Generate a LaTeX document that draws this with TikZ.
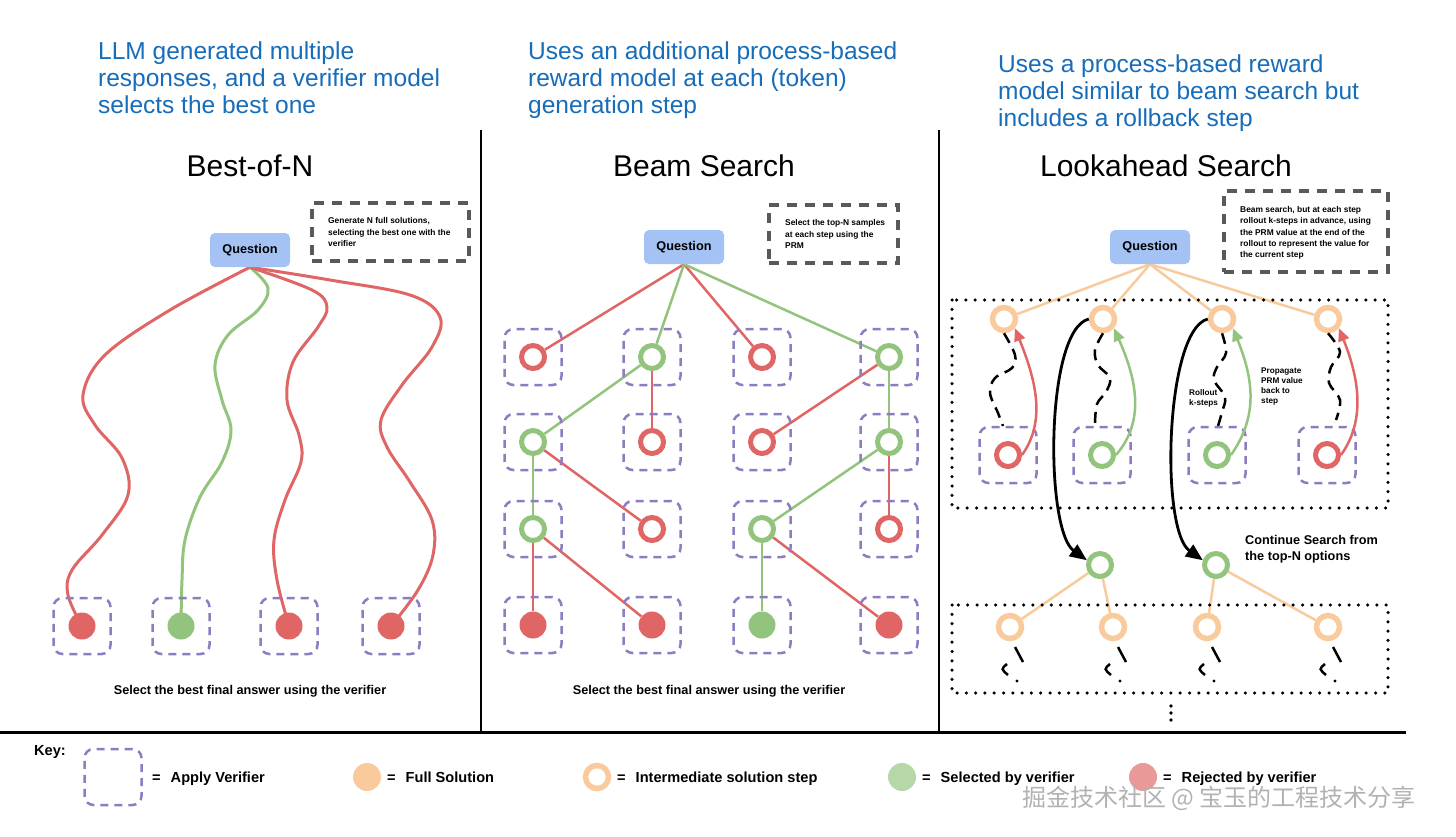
\documentclass[tikz,border=0pt]{standalone}
\usepackage{fontspec}
\setmainfont{Liberation Sans}
\newfontfamily\cjkfont{Noto Sans CJK SC}
\usetikzlibrary{arrows.meta,backgrounds}
\definecolor{hblue}{RGB}{23,109,186}
\definecolor{qblue}{HTML}{A4C2F4}
\definecolor{cred}{HTML}{E06666}
\definecolor{cgreen}{HTML}{93C47D}
\definecolor{corange}{HTML}{F9CB9C}
\definecolor{cpurple}{HTML}{8E7CC3}
\definecolor{cgray}{HTML}{595959}
\definecolor{kgreen}{HTML}{B6D7A8}
\definecolor{kred}{HTML}{EA9999}
\newcommand\fsz[2]{\fontsize{#1}{#2}\selectfont}
\tikzset{
 hdr/.style={anchor=north west, inner sep=0pt, align=left, text=hblue, font=\fsz{24.5}{27}},
 ttl/.style={anchor=base, inner sep=0pt, font=\fsz{30}{34}},
 qbox/.style={fill=qblue, rounded corners=5pt, minimum width=80pt, minimum height=34pt, inner sep=0pt, font=\bfseries\fsz{12.7}{15}},
 notebox/.style={draw=cgray, line width=3.5pt, dash pattern=on 10pt off 8pt, inner sep=0pt},
 notetxt/.style={anchor=west, inner sep=0pt, align=left, font=\bfseries\fsz{8.4}{11.3}},
 lbl/.style={anchor=base, inner sep=0pt, font=\bfseries\fsz{12.7}{16}},
 vbox/.style={draw=cpurple, line width=2.5pt, dash pattern=on 8pt off 6pt, rounded corners=9pt, minimum width=57pt, minimum height=56pt, inner sep=0pt},
 ringbase/.style={circle, line width=5pt, fill=white, minimum size=23pt, inner sep=0pt},
 ringR/.style={ringbase, draw=cred},
 ringG/.style={ringbase, draw=cgreen},
 ringO/.style={ringbase, draw=corange, line width=5.5pt},
 dotF/.style={circle, minimum size=27pt, inner sep=0pt},
 fR/.style={dotF, fill=cred},
 fG/.style={dotF, fill=cgreen},
 curveR/.style={draw=cred, line width=3pt},
 curveG/.style={draw=cgreen, line width=3pt},
 eR/.style={draw=cred, line width=2.5pt},
 eG/.style={draw=cgreen, line width=2.5pt},
 eO/.style={draw=corange, line width=2.5pt},
 divider/.style={draw=black, line width=2.5pt},
 dotbox/.style={draw=black, line width=3.5pt, line cap=round, dash pattern=on 0pt off 9.3pt},
 wig/.style={draw=black, line width=2.5pt, dash pattern=on 11pt off 7pt},
 wigpart/.style={draw=black, line width=2.5pt},
 arrK/.style={draw=black, line width=2.8pt, -{Triangle[length=17pt,width=14pt]}},
 arrR/.style={draw=cred, line width=2.5pt, -{Triangle[length=13pt,width=11pt]}},
 arrG/.style={draw=cgreen, line width=2.5pt, -{Triangle[length=13pt,width=11pt]}},
 smalltxt/.style={anchor=west, inner sep=0pt, align=left, font=\bfseries\fsz{8.2}{10}},
 keytxt/.style={anchor=base west, inner sep=0pt, font=\bfseries\fsz{14.6}{17}},
 keydot/.style={circle, minimum size=28pt, inner sep=0pt},
}
\begin{document}
\begin{tikzpicture}[x=1pt,y=-1pt]
\useasboundingbox (0,0) rectangle (1456,836);
\begin{scope}[on background layer]
\fill[white] (0,0) rectangle (1456,836);
\end{scope}

% headers
\node[hdr] (h1) at (98,41.5) {LLM generated multiple\\responses, and a verifier model\\selects the best one};
\node[hdr] (h2) at (528,41.5) {Uses an additional process-based\\reward model at each (token)\\generation step};
\node[hdr] (h3) at (998,54.5) {Uses a process-based reward\\model similar to beam search but\\includes a rollback step};

% titles
\node[ttl] (tA) at (250,176) {Best-of-N};
\node[ttl] (tB) at (704,176) {Beam Search};
\node[ttl] (tC) at (1166,176) {Lookahead Search};

% dividers
\draw[divider] (481,130) -- (481,731);
\draw[divider] (939,130) -- (939,731);
\draw[divider, line width=3pt] (0,732.5) -- (1406,732.5);

% ---------------- Best-of-N
\node[qbox] (q1) at (250,250) {Question};
\node[notebox, minimum width=157pt, minimum height=58pt] (n1) at (390.5,232) {};
\node[notetxt] (nt1) at (328,232) {Generate N full solutions,\\selecting the best one with the\\verifier};
\foreach \x/\c [count=\i] in {82/fR,181/fG,289/fR,391/fR} {
  \node[vbox] (vb\i) at (\x,626) {};
  \node[\c] (b\i) at (\x,626) {};
}
\begin{scope}[on background layer]
\draw[curveR] plot[smooth, tension=0.6] coordinates {(q1.south) (170,310) (105,355) (83,395) (95,425) (122,458) (128,495) (102,535) (72,570) (68,595) (b1)};
\draw[curveG] plot[smooth, tension=0.6] coordinates {(q1.south) (268,288) (258,310) (228,335) (215,365) (222,400) (231,430) (222,462) (200,497) (185,540) (182,580) (b2)};
\draw[curveR] plot[smooth, tension=0.6] coordinates {(q1.south) (312,290) (327,307) (318,327) (293,362) (287,400) (299,435) (301,462) (285,500) (274,540) (277,580) (b3)};
\draw[curveR] plot[smooth, tension=0.6] coordinates {(q1.south) (330,280) (410,295) (440,317) (432,347) (402,385) (381,420) (387,447) (410,482) (432,520) (433,555) (418,590) (b4)};
\end{scope}
\node[lbl] (s1) at (250,694.5) {Select the best final answer using the verifier};

% ---------------- Beam Search
\node[qbox] (q2) at (684,247) {Question};
\node[notebox, minimum width=129pt, minimum height=58pt] (n2) at (833.5,234) {};
\node[notetxt] (nt2) at (785,234) {Select the top-N samples\\at each step using the\\PRM};
\foreach \r/\y in {1/357,2/442,3/529,4/625}
  \foreach \c/\x in {1/533,2/652,3/762,4/889}
    \node[vbox] (vb\r\c) at (\x,\y) {};
\node[ringR] (r11) at (533,357) {};
\node[ringG] (r12) at (652,357) {};
\node[ringR] (r13) at (762,357) {};
\node[ringG] (r14) at (889,357) {};
\node[ringG] (r21) at (533,442) {};
\node[ringR] (r22) at (652,442) {};
\node[ringR] (r23) at (762,442) {};
\node[ringG] (r24) at (889,442) {};
\node[ringG] (r31) at (533,529) {};
\node[ringR] (r32) at (652,529) {};
\node[ringG] (r33) at (762,529) {};
\node[ringR] (r34) at (889,529) {};
\node[fR] (r41) at (533,625) {};
\node[fR] (r42) at (652,625) {};
\node[fG] (r43) at (762,625) {};
\node[fR] (r44) at (889,625) {};
\begin{scope}[on background layer]
\draw[eR] (q2.south) -- (r11);
\draw[eG] (q2.south) -- (r12);
\draw[eR] (q2.south) -- (r13);
\draw[eG] (q2.south) -- (r14);
\draw[eG] (r12) -- (r21);
\draw[eR] (r12) -- (r22);
\draw[eR] (r14) -- (r23);
\draw[eG] (r14) -- (r24);
\draw[eG] (r21) -- (r31);
\draw[eR] (r21) -- (r32);
\draw[eG] (r24) -- (r33);
\draw[eR] (r24) -- (r34);
\draw[eR] (r31) -- (r41);
\draw[eR] (r31) -- (r42);
\draw[eG] (r33) -- (r43);
\draw[eR] (r33) -- (r44);
\end{scope}
\node[lbl] (s2) at (709,694.5) {Select the best final answer using the verifier};

% ---------------- Lookahead Search
\node[qbox] (q3) at (1150,247) {Question};
\node[notebox, minimum width=164pt, minimum height=81pt] (n3) at (1306,231.5) {};
\node[notetxt] (nt3) at (1240,233) {Beam search, but at each step\\rollout k-steps in advance, using\\the PRM value at the end of the\\rollout to represent the value for\\the current step};

\draw[dotbox] (952,300) rectangle (1388,508);
\draw[dotbox] (952,605) rectangle (1388,693);

\node[ringO] (u1) at (1004,319) {};
\node[ringO] (u2) at (1103,319) {};
\node[ringO] (u3) at (1222,319) {};
\node[ringO] (u4) at (1328,319) {};
\foreach \x [count=\i] in {1008,1102,1217,1327}
  \node[vbox] (lv\i) at (\x,455) {};
\node[ringR] (l1) at (1008,455) {};
\node[ringG] (l2) at (1102,455) {};
\node[ringG] (l3) at (1217,455) {};
\node[ringR] (l4) at (1327,455) {};
\node[ringG] (g1) at (1100,565) {};
\node[ringG] (g2) at (1216,565) {};
\node[ringO] (o1) at (1010,627) {};
\node[ringO] (o2) at (1113,627) {};
\node[ringO] (o3) at (1207,627) {};
\node[ringO] (o4) at (1328,627) {};

\begin{scope}[on background layer]
\draw[eO] (q3.south) -- (u1);
\draw[eO] (q3.south) -- (u2);
\draw[eO] (q3.south) -- (u3);
\draw[eO] (q3.south) -- (u4);
\draw[eO] (g1) -- (o1);
\draw[eO] (g1) -- (o2);
\draw[eO] (g2) -- (o3);
\draw[eO] (g2) -- (o4);
\end{scope}

% rollout wiggles
\draw[wig] plot[smooth, tension=0.6] coordinates {(u1.south) (1015,355) (1012,368) (995,378) (990,393) (998,413) (1003,426)};
\draw[wig] plot[smooth, tension=0.6] coordinates {(u2.south) (1095,350) (1098,365) (1110,378) (1106,392) (1097,404) (1095,424)};
\draw[wig] plot[smooth, tension=0.6] coordinates {(u3.south) (1226,353) (1217,367) (1214,380) (1225,397) (1222,412) (1218,426)};
\draw[wig] plot[smooth, tension=0.6] coordinates {(u4.south) (1340,352) (1331,367) (1329,383) (1340,400) (1336,420)};

\foreach \i in {1,...,4} {
  \begin{scope}[shift={(o\i)}]
    \draw[wigpart] (5,20) -- (13,35);
    \draw[wigpart] (-3,37) .. controls (-9,42) .. (-2,48);
    \fill (7,54) circle (1.6);
  \end{scope}
}
\fill (1171,706) circle (1.8);
\fill (1171,713) circle (1.8);
\fill (1171,720) circle (1.8);

% propagate arrows
\draw[arrR] (l1.east) .. controls +(25,-35) and +(20,50) .. (u1.-40);
\draw[arrG] (l2.east) .. controls +(30,-35) and +(22,50) .. (u2.-40);
\draw[arrG] (l3.east) .. controls +(28,-40) and +(20,50) .. (u3.-40);
\draw[arrR] (l4.east) .. controls +(25,-35) and +(20,50) .. (u4.-40);

% continue arrows
\draw[arrK] (u2.west) .. controls (1045,330) and (1045,530) .. (g1.160);
\draw[arrK] (u3.west) .. controls (1165,330) and (1160,530) .. (g2.160);

\node[smalltxt] (rk) at (1189,398) {Rollout\\k-steps};
\node[smalltxt] (pp) at (1261,387) {Propagate\\PRM value\\back to\\step};
\node[lbl, anchor=west, align=left] (cs) at (1245,549) {Continue Search from\\the top-N options};

% ---------------- Key
\node[keytxt] (key) at (34,755) {Key:};
\node[vbox] (kv) at (113,777) {};
\node[keytxt] (k1) at (152,782) {=\hspace{10pt}Apply Verifier};
\node[keydot, fill=corange] (kd2) at (367,777) {};
\node[keytxt] (k2) at (387,782) {=\hspace{10pt}Full Solution};
\node[ringO] (kd3) at (597,777) {};
\node[keytxt] (k3) at (617,782) {=\hspace{10pt}Intermediate solution step};
\node[keydot, fill=kgreen] (kd4) at (902,777) {};
\node[keytxt] (k4) at (922,782) {=\hspace{10pt}Selected by verifier};
\node[keydot, fill=kred] (kd5) at (1143,777) {};
\node[keytxt] (k5) at (1163,782) {=\hspace{10pt}Rejected by verifier};

\node[anchor=west, inner sep=0pt, font=\cjkfont\fsz{24}{28}, text=gray!60] (wm) at (1022,798) {掘金技术社区 @ 宝玉的工程技术分享};
\end{tikzpicture}
\end{document}
